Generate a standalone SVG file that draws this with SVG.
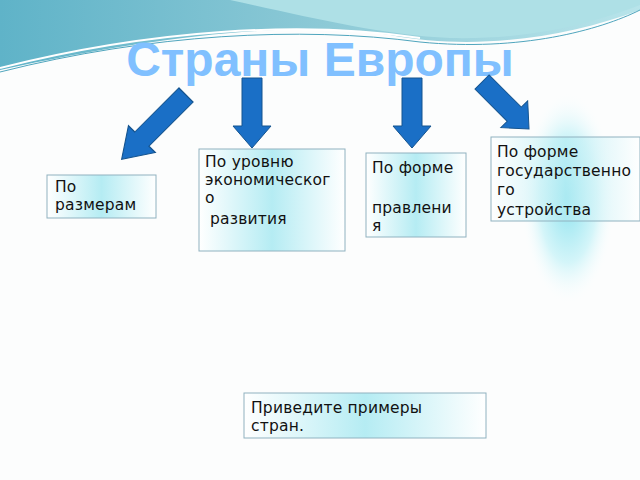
<svg xmlns="http://www.w3.org/2000/svg" width="640" height="480" viewBox="0 0 640 480">
<defs>
<linearGradient id="box" x1="0" y1="0" x2="1" y2="0">
<stop offset="0" stop-color="#ffffff"/><stop offset="0.5" stop-color="#b5ecf3"/><stop offset="1" stop-color="#ffffff"/>
</linearGradient>
<radialGradient id="glow" cx="0.5" cy="0.5" r="0.5">
<stop offset="0" stop-color="#8fe3ef"/><stop offset="0.6" stop-color="#d4f5f9"/><stop offset="1" stop-color="#ffffff" stop-opacity="0"/>
</radialGradient>
<linearGradient id="wave" x1="0" y1="0" x2="1" y2="0">
<stop offset="0" stop-color="#5fb3c8"/><stop offset="0.5" stop-color="#8cc9d6"/><stop offset="1" stop-color="#b8e4ea"/>
</linearGradient>
<polygon id="arr" points="-10,0 10,0 10,48 19,48 0,70 -19,48 -10,48" />
<style>
.b{fill:url(#box);stroke:#8fb2c0;stroke-width:1}
.t{font-family:"DejaVu Sans",sans-serif;font-size:15.5px;letter-spacing:0.2px;fill:#111}
.a{fill:#1a6fc6;stroke:#15548f;stroke-width:1}
</style>
</defs>
<rect width="640" height="480" fill="#fcfdfd"/>
<path d="M0,0 H640 V10 C560,40 470,50 390,35 C300,20 160,35 0,70 Z" fill="url(#wave)"/>
<path d="M230,0 C300,15 380,35 450,38 C540,40 600,20 640,5 V0 Z" fill="#aee0e6"/>
<path d="M0,68 C150,30 300,20 420,38" fill="none" stroke="#ffffff" stroke-width="2"/>
<path d="M0,72 C150,34 300,26 420,42 C520,52 600,30 640,10" fill="none" stroke="#4fa5bd" stroke-width="1"/>
<ellipse cx="568" cy="198" rx="48" ry="108" fill="url(#glow)"/>
<text x="320" y="76" text-anchor="middle" font-family="Liberation Sans, sans-serif" font-weight="bold" font-size="48" fill="#80c0ff">Страны Европы</text>
<g id="connectors">
<use href="#arr" class="a" transform="translate(186,95) rotate(45) scale(1,1.3)"/>
<use href="#arr" class="a" transform="translate(252,78)"/>
<use href="#arr" class="a" transform="translate(412,78)"/>
<use href="#arr" class="a" transform="translate(482,82) rotate(-45) scale(1,0.95)"/>
</g>
<g id="n1"><rect class="b" x="47" y="175" width="109" height="43"/>
<text class="t" x="55" y="192">По</text><text class="t" x="55" y="210">размерам</text></g>
<g id="n2"><rect class="b" x="199" y="149" width="146" height="102"/>
<text class="t" x="205" y="167">По уровню</text><text class="t" x="205" y="185">экономическог</text><text class="t" x="205" y="203">о</text><text class="t" x="210" y="224">развития</text></g>
<g id="n3"><rect class="b" x="366" y="153" width="100" height="84"/>
<text class="t" x="372" y="173">По форме</text><text class="t" x="372" y="213">правлени</text><text class="t" x="372" y="231">я</text></g>
<g id="n4"><rect class="b" x="491" y="137" width="149" height="84" fill-opacity="0.7"/>
<text class="t" x="497" y="157">По форме</text><text class="t" x="497" y="176">государственно</text><text class="t" x="497" y="195">го</text><text class="t" x="497" y="215">устройства</text></g>
<g id="n5"><rect class="b" x="244" y="393" width="242" height="45"/>
<text class="t" x="251" y="413">Приведите примеры</text><text class="t" x="251" y="431">стран.</text></g>
</svg>
